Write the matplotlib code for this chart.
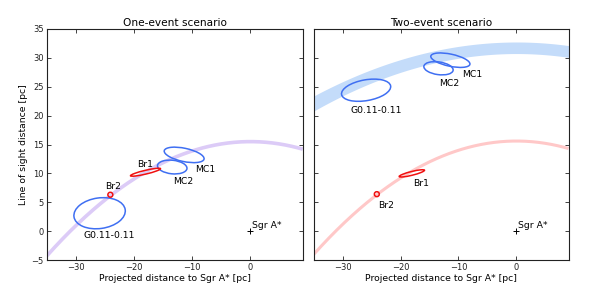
import numpy as np
import matplotlib
matplotlib.use("Agg")
import matplotlib.pyplot as plt
from matplotlib.patches import Ellipse

# ---------------- data ----------------
titles = ["One-event scenario", "Two-event scenario"]
xlim = (-35, 9)
ylim = (-5, 35)
xticks = [-30, -20, -10, 0]
yticks = [-5, 0, 5, 10, 15, 20, 25, 30, 35]

# light-echo paraboloids z = ct/2 - x^2/(2 ct)   (ct in pc)
echo_ct_one = 31.0             # one-event scenario (purple)
echo_ct_red = 31.2             # two-event scenario, Br1/Br2 event (pink)
echo_ct_blue = (61.5, 65.5)    # two-event scenario, cloud event (blue band)

# clouds: name, x, y, width, height, angle  (one-event)
cloud_names = ["G0.11-0.11", "MC2", "MC1"]
cloud_x = [-25.95, -13.45, -11.4]
cloud_y_one = [3.1, 11.1, 13.2]
cloud_w_one = [8.9, 5.1, 7.0]
cloud_h_one = [5.3, 2.35, 2.3]
cloud_a_one = [8, -6, -12]
cloud_y_two = [24.4, 28.2, 29.6]
cloud_w_two = [8.6, 5.1, 6.9]
cloud_h_two = [3.6, 2.2, 2.1]
cloud_a_two = [10, -8, -12]

# Br1 (elongated) and Br2 (compact)
br_names = ["Br1", "Br2"]
br_x = [-18.05, -24.1]
br_y_one = [10.2, 6.3]
br_y_two = [10.0, 6.4]
br_w_one = [5.3, 0.85]
br_w_two = [4.5, 0.85]
br_h = [0.65, 0.85]
br_a_one = [13.4, 0]
br_a_two = [14, 0]

# label positions (baseline, centre)
cloud_lab_one = [(-24.35, -1.25), (-11.6, 8.15), (-7.7, 10.3)]
cloud_lab_two = [(-24.2, 20.5), (-11.65, 25.2), (-7.6, 26.7)]
br_lab_one = [(-18.1, 11.15), (-23.65, 7.3)]
br_lab_two = [(-16.5, 7.8), (-22.45, 4.05)]

sgra = (0, 0)

# ---------------- style ----------------
blue = "#3f6ff2"
red = "#f01010"
purple = "#dccbf7"
pink = "#ffc8c8"
band = "#c4dcfa"
fs_text = 6.7

fig = plt.figure(figsize=(5.98, 2.89), dpi=100)
W, H = 598.0, 289.0
ax1 = fig.add_axes([47 / W, 1 - 260 / H, (302.7 - 47) / W, 231 / H])
ax2 = fig.add_axes([313.7 / W, 1 - 260 / H, (568.5 - 313.7) / W, 231 / H])

xx = np.linspace(xlim[0], xlim[1], 400)


def parab(ct):
    return ct / 2.0 - xx ** 2 / (2.0 * ct)


def style(ax, title, ylab):
    ax.set_xlim(*xlim)
    ax.set_ylim(*ylim)
    ax.set_xticks(xticks)
    ax.set_yticks(yticks)
    ax.tick_params(direction="in", top=True, right=True, length=3, width=0.6,
                   labelsize=6.0, pad=2.5, colors="#222222")
    ax.set_xticklabels([("\u2212%d" % -t) if t < 0 else "%d" % t for t in xticks])
    if ylab:
        ax.set_yticklabels([("\u2212%d" % -t) if t < 0 else "%d" % t for t in yticks])
        ax.set_ylabel("Line of sight distance [pc]", fontsize=fs_text, labelpad=2)
    else:
        ax.set_yticklabels([])
    ax.set_xlabel("Projected distance to Sgr A* [pc]", fontsize=fs_text, labelpad=1)
    ax.set_title(title, fontsize=7.6, pad=2)
    for s in ax.spines.values():
        s.set_linewidth(0.8)
        s.set_color("#222222")


# ---- left panel ----
ax1.plot(xx, parab(echo_ct_one), color=purple, lw=2.6, solid_capstyle="butt", zorder=1)
for i in range(len(cloud_names)):
    ax1.add_patch(Ellipse((cloud_x[i], cloud_y_one[i]), cloud_w_one[i], cloud_h_one[i],
                          angle=cloud_a_one[i], fill=False, ec=blue, lw=1.1, zorder=3))
    ax1.text(*cloud_lab_one[i], cloud_names[i], ha="center", va="baseline", fontsize=fs_text)
for i in range(len(br_names)):
    ax1.add_patch(Ellipse((br_x[i], br_y_one[i]), br_w_one[i], br_h[i],
                          angle=br_a_one[i], fill=False, ec=red, lw=1.1, zorder=4))
    ax1.text(*br_lab_one[i], br_names[i], ha="center", va="baseline", fontsize=fs_text)
ax1.plot(*sgra, marker="+", color="k", ms=4, mew=0.7)
ax1.text(sgra[0] + 0.35, sgra[1] + 0.5, "Sgr A*", ha="left", va="baseline", fontsize=fs_text)
style(ax1, titles[0], True)

# ---- right panel ----
ax2.fill_between(xx, parab(echo_ct_blue[0]), parab(echo_ct_blue[1]), color=band, lw=0, zorder=1)
ax2.plot(xx, parab(echo_ct_red), color=pink, lw=2.2, solid_capstyle="butt", zorder=1)
for i in range(len(cloud_names)):
    ax2.add_patch(Ellipse((cloud_x[i], cloud_y_two[i]), cloud_w_two[i], cloud_h_two[i],
                          angle=cloud_a_two[i], fill=False, ec=blue, lw=1.1, zorder=3))
    ax2.text(*cloud_lab_two[i], cloud_names[i], ha="center", va="baseline", fontsize=fs_text)
for i in range(len(br_names)):
    ax2.add_patch(Ellipse((br_x[i], br_y_two[i]), br_w_two[i], br_h[i],
                          angle=br_a_two[i], fill=False, ec=red, lw=1.1, zorder=4))
    ax2.text(*br_lab_two[i], br_names[i], ha="center", va="baseline", fontsize=fs_text)
ax2.plot(*sgra, marker="+", color="k", ms=4, mew=0.7)
ax2.text(sgra[0] + 0.35, sgra[1] + 0.5, "Sgr A*", ha="left", va="baseline", fontsize=fs_text)
style(ax2, titles[1], False)

fig.savefig("out.png", dpi=100)
